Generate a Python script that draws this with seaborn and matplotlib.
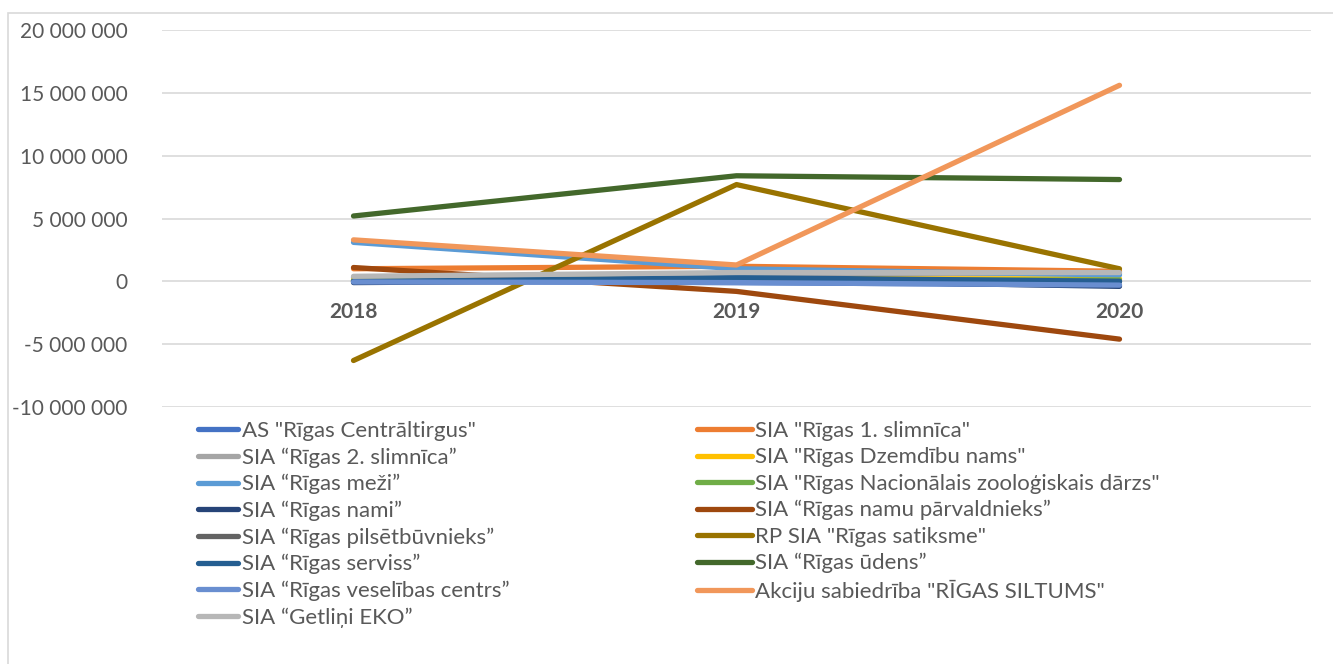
import numpy as np
import pandas as pd
import seaborn as sns
import matplotlib
matplotlib.use("Agg")
import matplotlib.pyplot as plt
from matplotlib.patches import Rectangle
from matplotlib.lines import Line2D
from matplotlib.ticker import FuncFormatter, MultipleLocator

years = ["2018", "2019", "2020"]
companies = [
    'AS "Rīgas Centrāltirgus"',
    'SIA "Rīgas 1. slimnīca"',
    'SIA “Rīgas 2. slimnīca”',
    'SIA "Rīgas Dzemdību nams"',
    'SIA “Rīgas meži”',
    'SIA "Rīgas Nacionālais zooloģiskais dārzs"',
    'SIA “Rīgas nami”',
    'SIA “Rīgas namu pārvaldnieks”',
    'SIA “Rīgas pilsētbūvnieks”',
    'RP SIA "Rīgas satiksme"',
    'SIA “Rīgas serviss”',
    'SIA “Rīgas ūdens”',
    'SIA “Rīgas veselības centrs”',
    'Akciju sabiedrība "RĪGAS SILTUMS"',
    'SIA “Getliņi EKO”',
]
centraltirgus = [50_000, -100_000, -300_000]
slimnica1 = [1_000_000, 1_200_000, 800_000]
slimnica2 = [300_000, 600_000, 600_000]
dzemdibu = [100_000, 200_000, 200_000]
mezi = [3_100_000, 1_000_000, 500_000]
zoo = [50_000, 100_000, 100_000]
nami = [-100_000, 100_000, -400_000]
namu_parv = [1_100_000, -800_000, -4_600_000]
pilsetbuvn = [50_000, 50_000, 50_000]
satiksme = [-6_300_000, 7_700_000, 1_000_000]
serviss = [0, 300_000, 0]
udens = [5_200_000, 8_400_000, 8_100_000]
veselibas = [-50_000, -100_000, -300_000]
siltums = [3_300_000, 1_300_000, 15_600_000]
getlini = [400_000, 700_000, 700_000]

series = [centraltirgus, slimnica1, slimnica2, dzemdibu, mezi, zoo, nami, namu_parv,
          pilsetbuvn, satiksme, serviss, udens, veselibas, siltums, getlini]
colors = ["#4472C4", "#ED7D31", "#A5A5A5", "#FFC000", "#5B9BD5", "#70AD47", "#264478",
          "#9E480E", "#636363", "#997300", "#255E91", "#43682B", "#698ED0", "#F1975A", "#B7B7B7"]

rows = []
for name, vals in zip(companies, series):
    for i, (y, v) in enumerate(zip(years, vals)):
        rows.append({"company": name, "pos": i, "year": y, "value": v})
df = pd.DataFrame(rows)

sns.set_theme(style="white")
plt.rcParams["font.family"] = ["Lato", "DejaVu Sans"]

fig = plt.figure(figsize=(13.33, 6.64), dpi=100)
ax = fig.add_axes([162/1333, 1-407/664, 1149/1333, 377/664])

palette = dict(zip(companies, colors))
sns.lineplot(data=df, x="pos", y="value", hue="company", palette=palette,
             hue_order=companies, linewidth=3.8, ax=ax, legend=False, sort=False)
for ln in ax.get_lines():
    ln.set_solid_capstyle("round")
    ln.set_solid_joinstyle("round")

ax.set_xlim(-0.5, 2.5)
ax.set_ylim(-10_000_000, 20_000_000)
ax.yaxis.set_major_locator(MultipleLocator(5_000_000))
ax.yaxis.set_major_formatter(FuncFormatter(lambda v, p: f"{int(v):,}".replace(",", " ")))
ax.grid(axis="y", color="#D9D9D9", linewidth=1.2)
ax.set_axisbelow(True)
for s in ax.spines.values():
    s.set_visible(False)
ax.set_xticks(range(len(years)))
ax.set_xticklabels(years)
ax.spines["bottom"].set_position(("data", 0))
ax.tick_params(axis="x", length=0, pad=15, labelsize=15, labelcolor="#595959")
for t in ax.get_xticklabels():
    t.set_fontweight("bold")
ax.tick_params(axis="y", length=0, pad=25, labelsize=15, labelcolor="#595959")
ax.set_xlabel("")
ax.set_ylabel("")

# outer chart border
fig.patches.append(Rectangle((8/1333, -0.05), 1.1, 1-13/664+0.05, transform=fig.transFigure,
                             fill=False, edgecolor="#D9D9D9", linewidth=1.2))

handles = [Line2D([0], [0], color=c, linewidth=3.8, solid_capstyle="round") for c in colors]
left_idx = list(range(0, 15, 2))
right_idx = list(range(1, 15, 2))
fs = 16
leg1 = fig.legend([handles[i] for i in left_idx], [companies[i] for i in left_idx],
                  loc="upper left", bbox_to_anchor=(198/1333, 1-421/664), frameon=False,
                  borderpad=0, borderaxespad=0, handlelength=1.8, handletextpad=0.18,
                  labelspacing=0.285, fontsize=fs, labelcolor="#595959")
leg2 = fig.legend([handles[i] for i in right_idx], [companies[i] for i in right_idx],
                  loc="upper left", bbox_to_anchor=(697/1333, 1-421/664), frameon=False,
                  borderpad=0, borderaxespad=0, handlelength=2.48, handletextpad=0.15,
                  labelspacing=0.285, fontsize=fs, labelcolor="#595959")

fig.savefig("out.png", dpi=100)
